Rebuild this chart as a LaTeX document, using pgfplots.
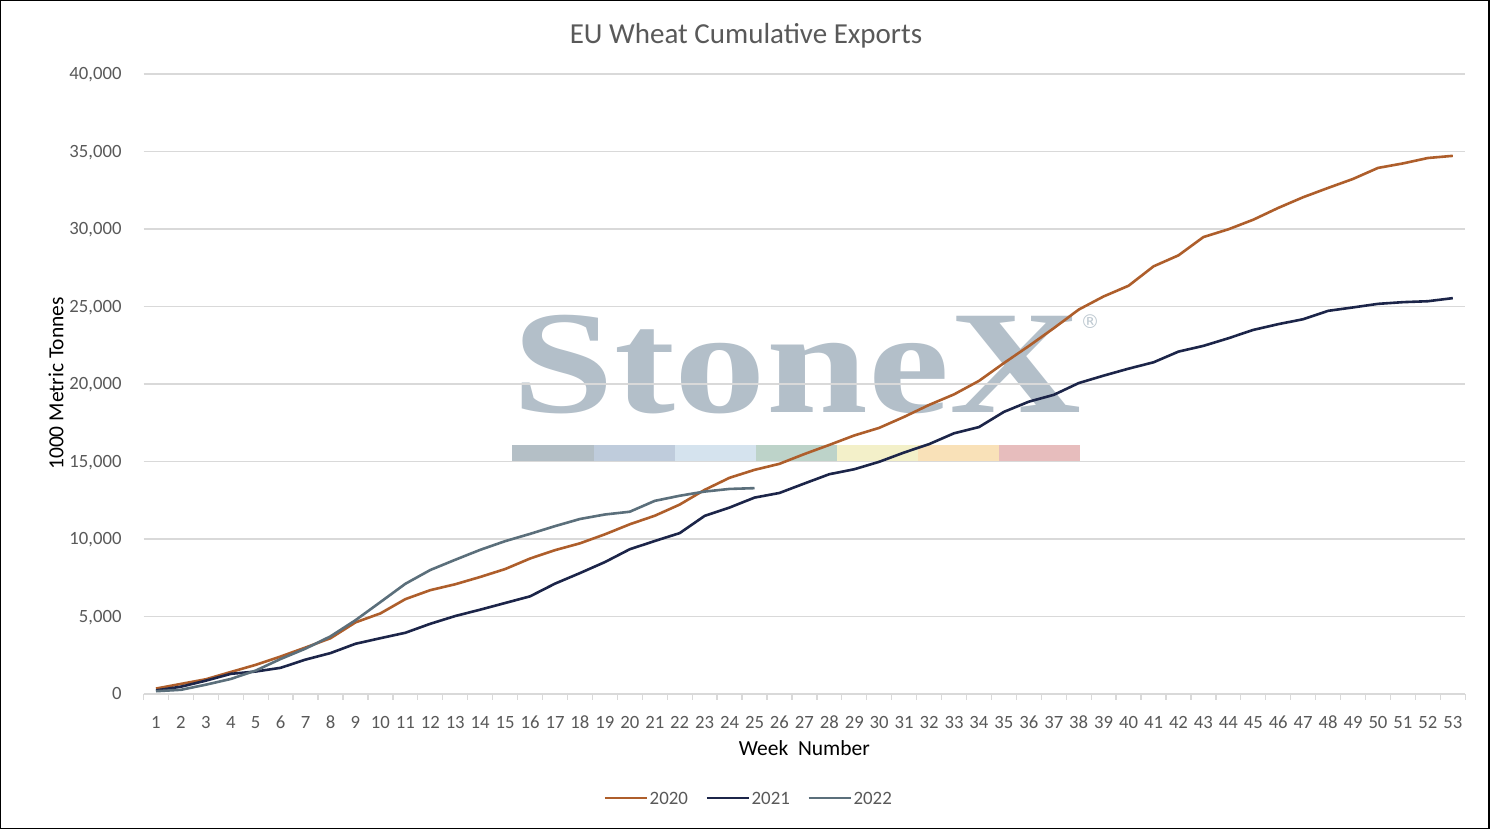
\documentclass[border=0pt]{standalone}
\usepackage{fontspec}
\setmainfont{Carlito}
\newfontfamily\wmfont{Liberation Serif}
\newfontfamily\symfont{DejaVu Sans}
\usepackage{pgfplots}
\pgfplotsset{compat=1.18}
\definecolor{cA}{HTML}{AE5E2B}
\definecolor{cB}{HTML}{1C2549}
\definecolor{cC}{HTML}{5B6F7B}
\definecolor{txt}{HTML}{595959}
\definecolor{grid}{HTML}{D9D9D9}
\definecolor{wm}{HTML}{B3BFC9}
\definecolor{b1}{HTML}{B4BFC6}
\definecolor{b2}{HTML}{BFCCDC}
\definecolor{b3}{HTML}{D5E3EE}
\definecolor{b4}{HTML}{BDD3C9}
\definecolor{b5}{HTML}{F3F0C9}
\definecolor{b6}{HTML}{F9E1B8}
\definecolor{b7}{HTML}{E7BDBD}
\pgfplotstableread{
w v
1 350
2 650
3 950
4 1420
5 1880
6 2420
7 3000
8 3600
9 4620
10 5200
11 6120
12 6700
13 7080
14 7550
15 8060
16 8740
17 9280
18 9720
19 10300
20 10950
21 11500
22 12220
23 13170
24 13950
25 14460
26 14850
27 15480
28 16070
29 16680
30 17170
31 17880
32 18650
33 19330
34 20200
35 21350
36 22450
37 23600
38 24800
39 25650
40 26340
41 27590
42 28300
43 29480
44 29980
45 30600
46 31360
47 32050
48 32650
49 33230
50 33940
51 34230
52 34580
53 34720
}\tA
\pgfplotstableread{
w v
1 230
2 470
3 860
4 1300
5 1450
6 1690
7 2220
8 2640
9 3240
10 3600
11 3950
12 4530
13 5030
14 5440
15 5870
16 6300
17 7120
18 7800
19 8510
20 9340
21 9870
22 10380
23 11490
24 12030
25 12670
26 12970
27 13580
28 14180
29 14500
30 14980
31 15580
32 16120
33 16820
34 17220
35 18200
36 18860
37 19300
38 20060
39 20540
40 20990
41 21400
42 22090
43 22460
44 22950
45 23490
46 23860
47 24180
48 24720
49 24940
50 25170
51 25280
52 25340
53 25540
}\tB
\pgfplotstableread{
w v
1 180
2 270
3 600
4 970
5 1510
6 2260
7 2930
8 3720
9 4760
10 5930
11 7110
12 8000
13 8660
14 9300
15 9860
16 10330
17 10830
18 11290
19 11580
20 11760
21 12460
22 12790
23 13060
24 13230
25 13280
}\tC
\begin{document}
\begin{tikzpicture}[x=1pt,y=1pt]
\useasboundingbox (0,0) rectangle (1491,829);
\fill[white] (0,0) rectangle (1491,829);
\draw[black, line width=1.2pt] (0.6,0.6) rectangle (1489,828.4);
% watermark
\node[anchor=base west, inner sep=0pt, text=wm, font=\wmfont\bfseries\fontsize{147}{147}\selectfont, xscale=1.245] at (512,416) {StoneX};
\node[anchor=center, inner sep=0pt, text=wm!85!white, font=\symfont\fontsize{19}{19}\selectfont] at (1090,507) {\textregistered};
\fill[b1] (512,367) rectangle (594,384);
\fill[b2] (594,367) rectangle (675,384);
\fill[b3] (675,367) rectangle (756,384);
\fill[b4] (756,367) rectangle (837,384);
\fill[b5] (837,367) rectangle (918,384);
\fill[b6] (918,367) rectangle (999,384);
\fill[b7] (999,367) rectangle (1080,384);
% title and labels
\node[anchor=base, inner sep=0pt, text=txt, font=\fontsize{29}{34}\selectfont] at (746,785.7) {EU Wheat Cumulative Exports};
\node[anchor=base, inner sep=0pt, text=black, font=\fontsize{21.5}{26}\selectfont] at (804.3,73) {Week~~Number};
\node[anchor=base, inner sep=0pt, rotate=90, text=black, font=\fontsize{21.5}{26}\selectfont] at (63.3,445.5) {1000 Metric Tonnes};
\begin{axis}[
  at={(143.5pt,135pt)}, anchor=south west,
  scale only axis, width=1321.8pt, height=620pt,
  xmin=0.5, xmax=53.5, ymin=0, ymax=40000,
  axis x line*=bottom, axis y line*=left,
  y axis line style={draw=none},
  x axis line style={draw=grid, line width=1.3pt},
  xtick={1,...,53}, major x tick style={draw=none},
  minor xtick={0.5,1.5,...,53.5},
  minor x tick style={draw=grid, line width=1.3pt},
  minor tick length=6pt, tick align=outside,
  ytick={0,5000,...,40000}, major y tick style={draw=none},
  ymajorgrids, grid style={draw=grid, line width=1.3pt},
  scaled y ticks=false,
  /pgf/number format/.cd, 1000 sep={,}, assume math mode=true, /pgfplots/.cd,
  tick label style={text=txt, font=\fontsize{18.7}{22}\selectfont, inner sep=0pt},
  yticklabel style={anchor=base east, xshift=-17.5pt, yshift=-5.9pt},
  xticklabel style={anchor=base, yshift=-30pt},
  legend columns=3,
  legend image code/.code={\draw[#1] (0pt,0pt) -- (42pt,0pt);},
  legend style={at={(axis description cs:0.4577,-0.1677)}, anchor=center, draw=none, fill=none,
    font=\fontsize{18.9}{22}\selectfont, text=txt,
    /tikz/every even column/.append style={column sep=16pt},
    nodes={inner xsep=1.5pt, inner ysep=0pt, text depth=0pt}},
  every axis plot/.append style={line width=2.6pt, line join=round, no markers},
]
\addplot[cA] table[x=w,y=v]{\tA};
\addplot[cB] table[x=w,y=v]{\tB};
\addplot[cC] table[x=w,y=v]{\tC};
\legend{2020,2021,2022}
\end{axis}
\end{tikzpicture}
\end{document}
